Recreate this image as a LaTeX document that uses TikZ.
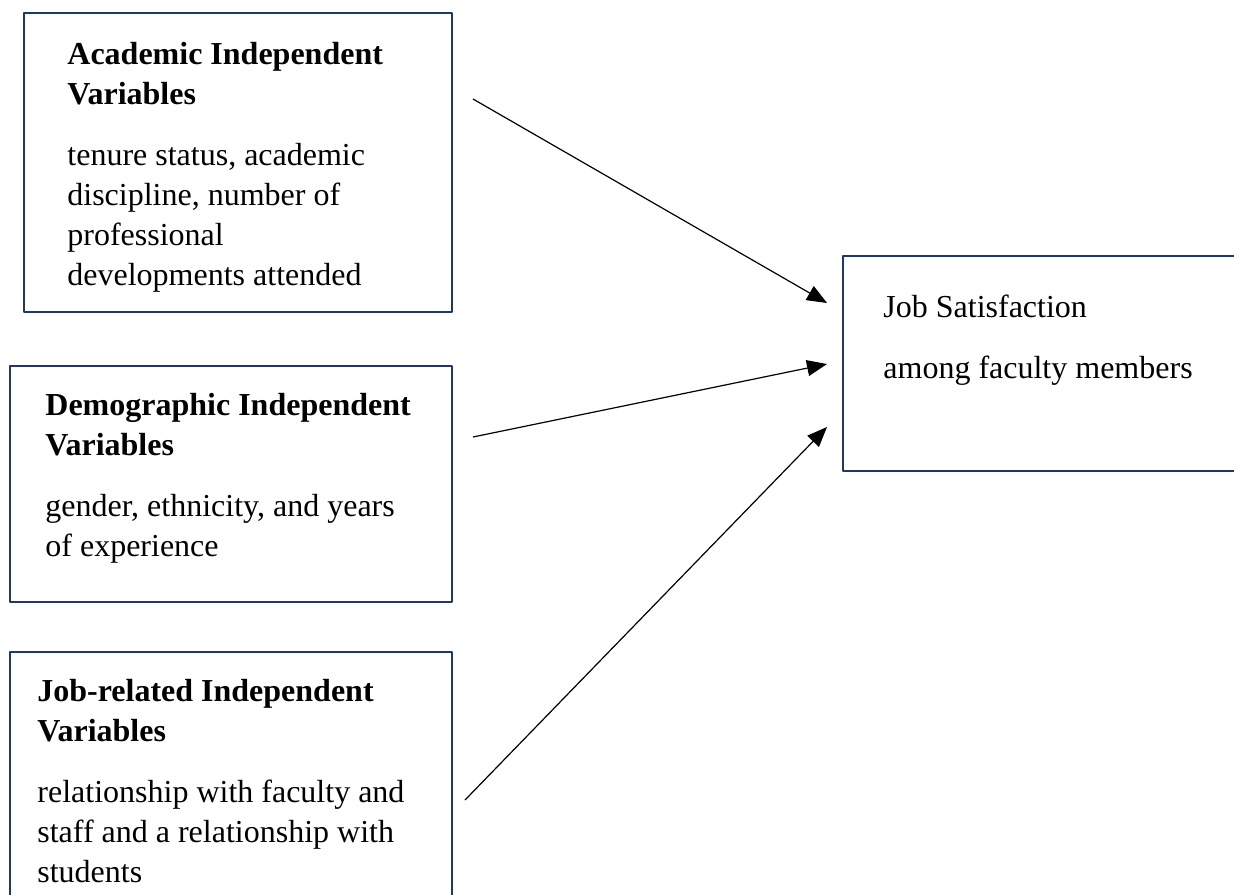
\documentclass[tikz,border=0pt]{standalone}
\usepackage{fontspec}
\setmainfont{Liberation Serif}
\usetikzlibrary{arrows.meta,fit}
\definecolor{khung}{HTML}{1F3864}
\begin{document}
\begin{tikzpicture}[x=.5pt, y=-.5pt, font=\fontsize{16}{20}\selectfont, line join=round, >={Triangle[length=10pt,width=8pt]},
		hop/.style={draw=khung, line width=1.4pt, inner sep=0pt},
		chu/.style={anchor=base west, align=left, inner sep=0pt}]
			\useasboundingbox (0,0) rectangle (1234,894);
			\clip (0,0) rectangle (1234,894);
			\node[hop, fit={(24,13) (452,312)}] (acad) {};
			\node[hop, fit={(10,366) (452,602)}] (demo) {};
			\node[hop, fit={(10,652) (452,930)}] (job) {};
			\node[hop, fit={(843,256) (1260,471)}] (satis) {};% hộp bên phải
			% neo ở dòng cuối
			\node[chu] (acad-text) at (67,285) {\textbf{Academic Independent}\\\textbf{Variables}\\[10.5pt]tenure status, academic\\discipline, number of\\professional\\developments attended};
			\node[chu] (demo-text) at (45,556) {\textbf{Demographic Independent}\\\textbf{Variables}\\[10.5pt]gender, ethnicity, and years\\of experience};
			\node[chu] (job-text) at (37,882) {\textbf{Job-related Independent}\\\textbf{Variables}\\[10.5pt]relationship with faculty and\\staff and a relationship with\\students};
			\node[chu] (satis-text) at (883,378) {Job Satisfaction\\[10.5pt]among faculty members};
			\coordinate (acad-out) at (473,99);
			\coordinate (demo-out) at (473,437);
			\coordinate (job-out) at (465,800);
			\coordinate (satis-in1) at (827,303);
			\coordinate (satis-in2) at (827,364);
			\coordinate (satis-in3) at (827,427);
			\foreach \a/\b in {acad/1, demo/2, job/3}
			\draw[->, line width=.6pt] (\a-out)--(satis-in\b);% vẽ mũi tên
		\end{tikzpicture}
\end{document}
